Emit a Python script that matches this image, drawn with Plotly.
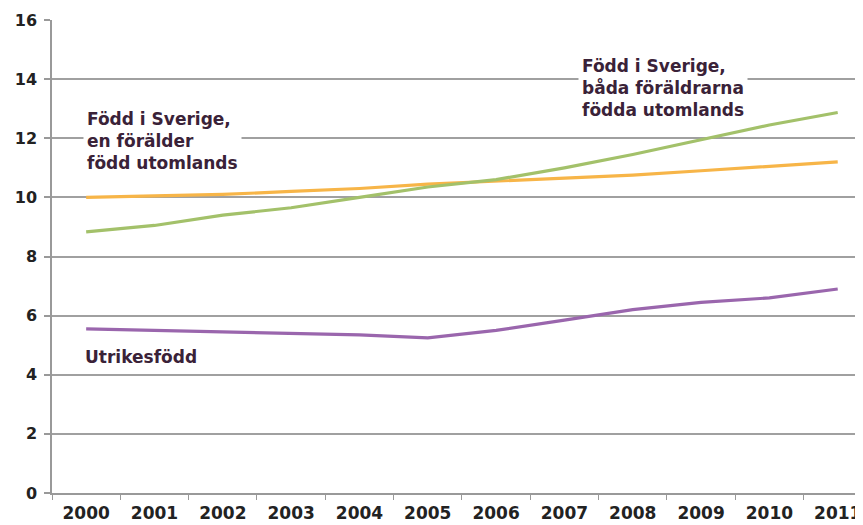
import plotly.graph_objects as go

years = [2000, 2001, 2002, 2003, 2004, 2005, 2006, 2007, 2008, 2009, 2010, 2011]
en_foralder = [10.0, 10.05, 10.1, 10.2, 10.3, 10.45, 10.55, 10.65, 10.75, 10.9, 11.05, 11.2]
bada_foraldrar = [8.83, 9.05, 9.4, 9.65, 10.0, 10.35, 10.6, 11.0, 11.45, 11.95, 12.45, 12.87]
utrikesfodd = [5.55, 5.5, 5.45, 5.4, 5.35, 5.25, 5.5, 5.85, 6.2, 6.45, 6.6, 6.9]
y_ticks = [0, 2, 4, 6, 8, 10, 12, 14, 16]

txt_color = "#3a2238"
font_fam = "DejaVu Sans"

fig = go.Figure()
fig.add_trace(go.Scatter(x=years, y=en_foralder, mode="lines",
                         line=dict(color="#f7b548", width=3.2), showlegend=False))
fig.add_trace(go.Scatter(x=years, y=bada_foraldrar, mode="lines",
                         line=dict(color="#a3c16a", width=3.2), showlegend=False))
fig.add_trace(go.Scatter(x=years, y=utrikesfodd, mode="lines",
                         line=dict(color="#9a66ad", width=3.2), showlegend=False))

ann_font = dict(family=font_fam, size=17, color=txt_color, weight="bold")
fig.add_annotation(x=1999.95, y=11.9, xref="x", yref="y", xanchor="left", yanchor="middle",
                   text="Född i Sverige,<br>en förälder<br>född utomlands", showarrow=False,
                   align="left", font=ann_font, bgcolor="white", borderpad=3)
fig.add_annotation(x=2007.2, y=13.7, xref="x", yref="y", xanchor="left", yanchor="middle",
                   text="Född i Sverige,<br>båda föräldrarna<br>födda utomlands", showarrow=False,
                   align="left", font=ann_font, bgcolor="white", borderpad=3)
fig.add_annotation(x=1999.95, y=4.6, xref="x", yref="y", xanchor="left", yanchor="middle",
                   text="Utrikesfödd", showarrow=False,
                   align="left", font=ann_font)

fig.update_layout(
    width=855, height=517,
    margin=dict(l=44, r=0, t=12, b=32),
    paper_bgcolor="white", plot_bgcolor="white",
    font=dict(family=font_fam, size=17, color="#222222"),
    xaxis=dict(
        range=[1999.5, 2011.37], tickmode="array", tickvals=years,
        ticktext=[str(y) for y in years], ticks="", showgrid=False,
        showline=True, linecolor="#999999", linewidth=1.5,
        ticklabelstandoff=4,
        tickfont=dict(family=font_fam, size=17, color="#222222", weight="bold"),
        minor=dict(tick0=1999.5, dtick=1, ticks="outside", ticklen=5,
                   tickcolor="#999999", tickwidth=1.2, showgrid=False),
        zeroline=False,
    ),
    yaxis=dict(
        range=[0, 16], tickmode="array", tickvals=y_ticks, ticks="outside",
        ticklen=6, tickcolor="#999999", tickwidth=1.5,
        showgrid=True, gridcolor="#a0a0a0", gridwidth=1.5,
        showline=True, linecolor="#999999", linewidth=1.5,
        zeroline=False, ticklabelstandoff=4,
        tickfont=dict(family=font_fam, size=16, color="#222222", weight="bold"),
    ),
)

fig.write_html("out.html")
